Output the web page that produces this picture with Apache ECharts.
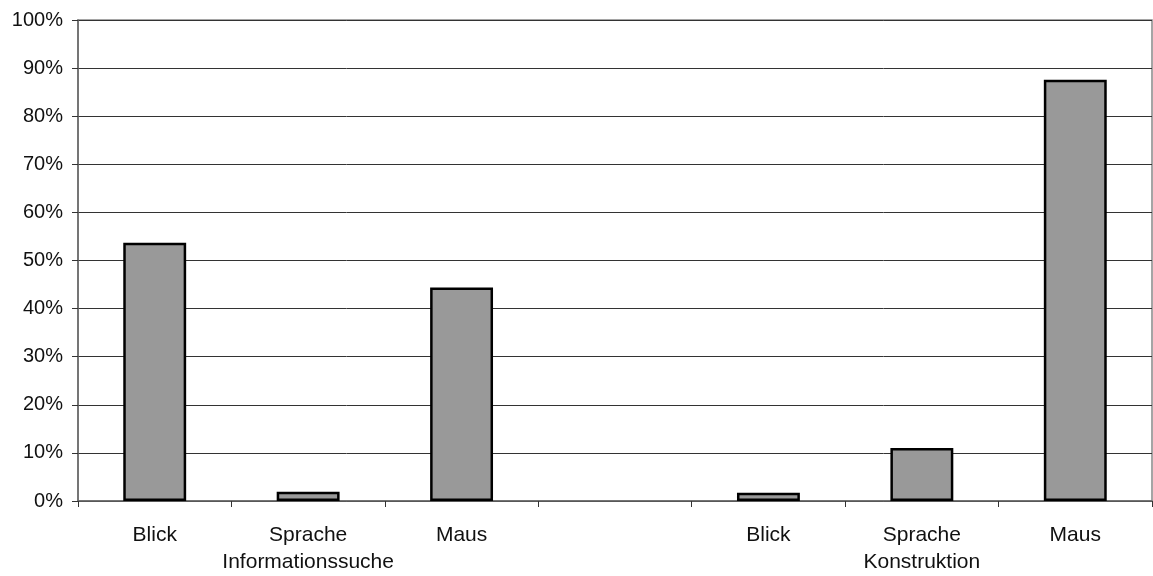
<!DOCTYPE html>
<html><head><meta charset="utf-8">
<script src="https://cdn.jsdelivr.net/npm/echarts@6/dist/echarts.min.js"></script>
<style>html,body{margin:0;padding:0;background:#fff}#c{width:1153px;height:576px}</style>
</head><body><div id="c"></div>
<script>
const categories = ['Blick', 'Sprache\nInformationssuche', 'Maus', '', 'Blick', 'Sprache\nKonstruktion', 'Maus'];
const values = [53.7, 1.9, 44.4, null, 1.7, 11.0, 87.6];
const yTicks = [0, 10, 20, 30, 40, 50, 60, 70, 80, 90, 100];

const chart = echarts.init(document.getElementById('c'));
chart.setOption({
  animation: false,
  grid: { left: 78, right: 1, top: 20, bottom: 73, show: true, borderColor: '#888', borderWidth: 1.5, backgroundColor: 'transparent' },
  xAxis: {
    type: 'category', data: categories,
    axisLine: { lineStyle: { color: '#666', width: 1.5 } },
    axisTick: { show: true, length: 6, lineStyle: { color: '#333' } },
    axisLabel: { color: '#111', fontFamily: 'Liberation Sans', fontSize: 21, margin: 21, lineHeight: 27, interval: 0 }
  },
  yAxis: {
    type: 'value', min: 0, max: 100, interval: 10,
    axisLine: { show: true, lineStyle: { color: '#666', width: 1.5 } },
    axisTick: { show: true, length: 6, lineStyle: { color: '#333' } },
    splitLine: { lineStyle: { color: '#333', width: 1 } },
    axisLabel: { color: '#111', fontFamily: 'Liberation Sans', fontSize: 20, margin: 15, formatter: v => yTicks.includes(v) ? v + '%' : '' }
  },
  series: [{
    type: 'bar', data: values, barWidth: '41%',
    itemStyle: { color: '#999999', borderColor: '#000', borderWidth: 2.5 }
  }]
});
</script></body></html>
